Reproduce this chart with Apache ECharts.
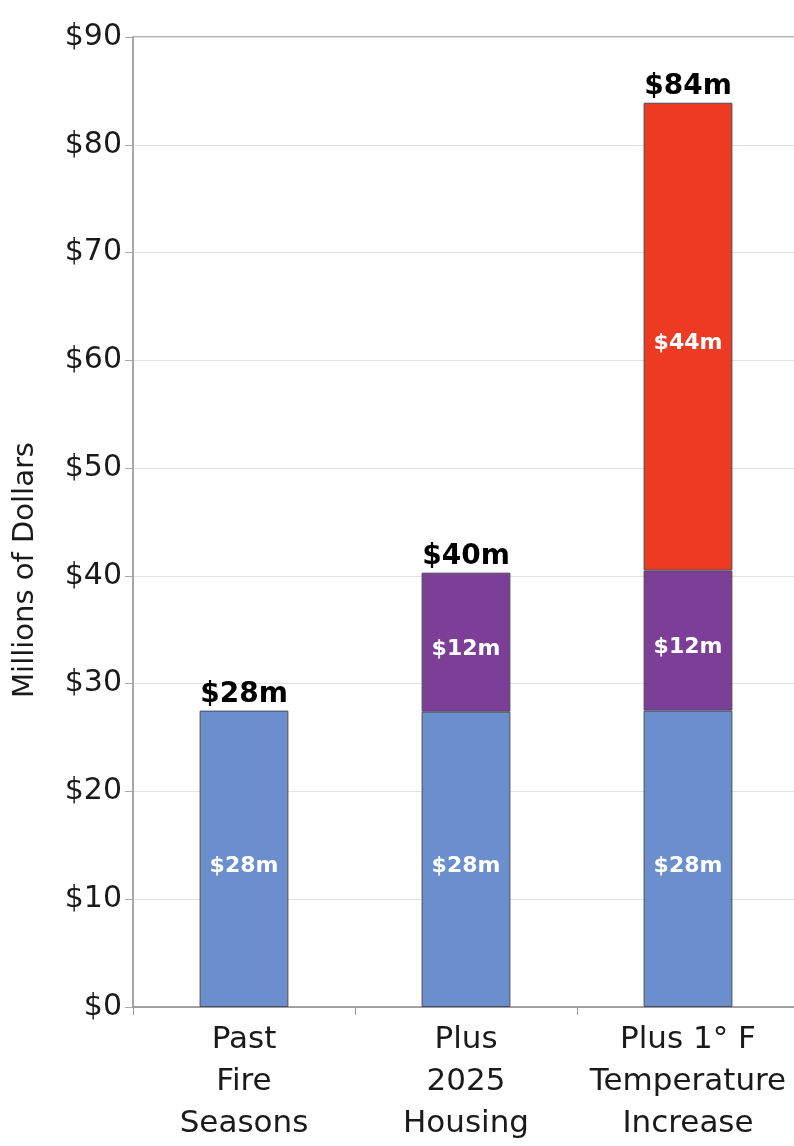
<!DOCTYPE html>
<html>
<head>
<meta charset="utf-8">
<script src="https://cdn.jsdelivr.net/npm/echarts@6/dist/echarts.min.js"></script>
<style>
html,body{margin:0;padding:0;background:#fff;}
#c{width:794px;height:1146px;}
</style>
</head>
<body>
<div id="c"></div>
<script>
const categories = ['Past\nFire\nSeasons', 'Plus\n2025\nHousing', 'Plus 1° F\nTemperature\nIncrease'];
const pastValues = [27.5, 27.4, 27.5];
const housingValues = [null, 12.9, 13.0];
const temperatureValues = [null, null, 43.4];
const pastLabels = ['$28m', '$28m', '$28m'];
const housingLabels = ['', '$12m', '$12m'];
const temperatureLabels = ['', '', '$44m'];
const totalLabels = ['$28m', '$40m', '$84m'];
const yTicks = [0, 10, 20, 30, 40, 50, 60, 70, 80, 90];
const yAxisTitle = 'Millions of Dollars';

const totals = pastValues.map((v, i) => v + (housingValues[i] || 0) + (temperatureValues[i] || 0));

const chart = echarts.init(document.getElementById('c'), null, {renderer: 'canvas'});
const font = '"DejaVu Sans", "Liberation Sans", Arial, sans-serif';
const inner = arr => ({
  show: true, position: 'inside', offset: [0, 7], color: '#fff', fontWeight: 'bold', fontSize: 22, fontFamily: font,
  formatter: p => arr[p.dataIndex]
});
const border = {borderColor: '#4a4a5a', borderWidth: 1};
chart.setOption({
  animation: false,
  grid: {left: 133, top: 37, width: 666, height: 970, containLabel: false, outerBoundsMode: 'none'},
  xAxis: {
    type: 'category', data: categories,
    axisLine: {lineStyle: {color: '#888', width: 1.5}},
    axisTick: {show: true, length: 8, interval: 0, lineStyle: {color: '#999'}},
    axisLabel: {color: '#1a1a1a', fontSize: 31, fontFamily: font, lineHeight: 42, margin: 12, interval: 0}
  },
  yAxis: {
    type: 'value', min: 0, max: 90, interval: 10,
    axisLine: {show: true, lineStyle: {color: '#888', width: 1.5}},
    axisTick: {show: true, length: 8, lineStyle: {color: '#aaa'}},
    splitLine: {lineStyle: {color: '#e2e2e2'}},
    axisLabel: {color: '#1a1a1a', fontSize: 30, fontFamily: font, margin: 11,
      formatter: v => yTicks.includes(v) ? '$' + v : ''}
  },
  series: [
    {type: 'bar', stack: 't', data: pastValues, barWidth: '40%', itemStyle: Object.assign({color: '#6b8fcd'}, border), label: inner(pastLabels)},
    {type: 'bar', stack: 't', data: housingValues, itemStyle: Object.assign({color: '#7d3e98'}, border), label: inner(housingLabels)},
    {type: 'bar', stack: 't', data: temperatureValues, itemStyle: Object.assign({color: '#ec3b22'}, border), label: inner(temperatureLabels)},
    {type: 'scatter', data: totals, symbolSize: 0, silent: true, itemStyle: {opacity: 1},
      label: {show: true, position: 'top', distance: 2, color: '#000', opacity: 1, textBorderWidth: 0, fontWeight: 'bold', fontSize: 28, fontFamily: font,
        formatter: p => totalLabels[p.dataIndex]}}
  ],
  graphic: [
    {type: 'line', shape: {x1: 133, y1: 37, x2: 794, y2: 37}, style: {stroke: '#999', lineWidth: 1.5}},
    {type: 'text', x: 25, y: 570, rotation: Math.PI / 2,
      style: {text: yAxisTitle, font: '29px "DejaVu Sans", sans-serif', fill: '#1a1a1a', textAlign: 'center', textVerticalAlign: 'middle'}}
  ]
});
</script>
</body>
</html>
